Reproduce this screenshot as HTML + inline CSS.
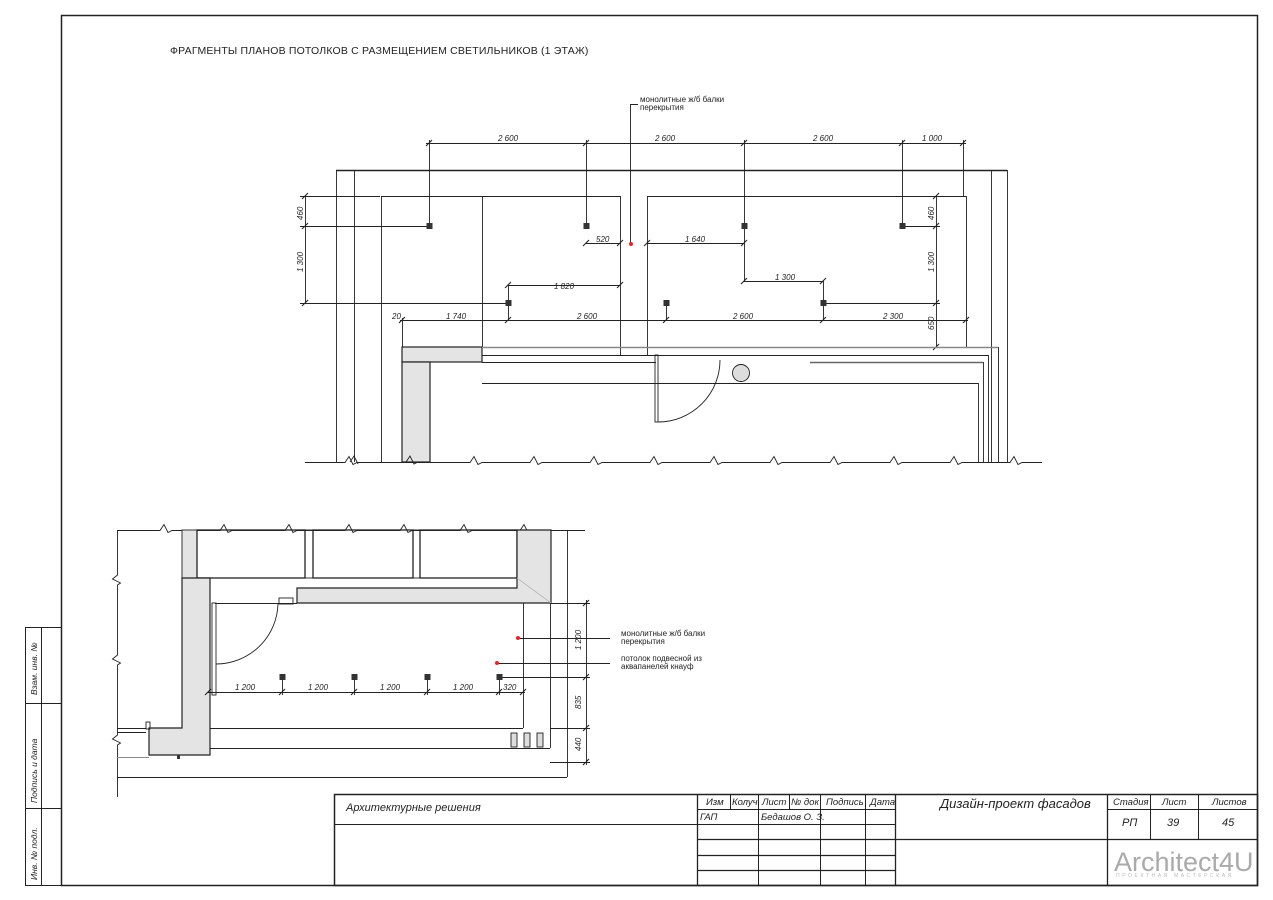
<!DOCTYPE html>
<html><head><meta charset="utf-8"><style>
html,body{margin:0;padding:0;background:#fff;}
svg{display:block;}
text{font-family:"Liberation Sans","DejaVu Sans",sans-serif;fill:#222;}
.d{font-size:8px;font-style:italic;}
.t{font-size:9.5px;font-style:italic;}
</style></head><body>
<svg width="1273" height="900" viewBox="0 0 1273 900" xmlns="http://www.w3.org/2000/svg">
<g fill="none" stroke="#222" stroke-width="1">
<rect x="61.5" y="15.5" width="1196" height="870" stroke-width="1.5"/>
<rect x="25.5" y="627.5" width="36" height="258"/>
<line x1="41.5" y1="627" x2="41.5" y2="885"/>
<line x1="25" y1="703.5" x2="61" y2="703.5"/>
<line x1="25" y1="808.5" x2="61" y2="808.5"/>
<rect x="334.5" y="794.5" width="923" height="91" stroke-width="1.5"/>
<line x1="334" y1="824.5" x2="697" y2="824.5"/>
<line x1="697.5" y1="794" x2="697.5" y2="885" stroke-width="1.3"/>
<line x1="697" y1="809.5" x2="895" y2="809.5"/>
<line x1="697" y1="824.5" x2="895" y2="824.5"/>
<line x1="697" y1="839.5" x2="1257" y2="839.5" stroke-width="1.3"/>
<line x1="697" y1="855.5" x2="895" y2="855.5" stroke-width="1.3"/>
<line x1="697" y1="870.5" x2="895" y2="870.5" stroke-width="1.3"/>
<line x1="730.5" y1="794" x2="730.5" y2="809"/>
<line x1="758.5" y1="794" x2="758.5" y2="885"/>
<line x1="789.5" y1="794" x2="789.5" y2="809"/>
<line x1="820.5" y1="794" x2="820.5" y2="885"/>
<line x1="865.5" y1="794" x2="865.5" y2="885"/>
<line x1="895.5" y1="794" x2="895.5" y2="885" stroke-width="1.3"/>
<line x1="1107.5" y1="794" x2="1107.5" y2="885" stroke-width="1.3"/>
<line x1="1107" y1="809.5" x2="1257" y2="809.5"/>
<line x1="1150.5" y1="794" x2="1150.5" y2="839"/>
<line x1="1198.5" y1="794" x2="1198.5" y2="839"/>
</g>

<g class="t">
<text x="346" y="811" style="font-size:11px">Архитектурные решения</text>
<text x="706" y="805">Изм</text><text x="732" y="805">Колуч</text><text x="762" y="805">Лист</text><text x="791" y="805">№ док</text><text x="826" y="805">Подпись</text><text x="870" y="805">Дата</text>
<text x="700" y="820">ГАП</text><text x="761" y="820">Бедашов О. З.</text>
<text x="940" y="808" style="font-size:13px">Дизайн-проект фасадов</text>
<text x="1113" y="805">Стадия</text><text x="1162" y="805">Лист</text><text x="1212" y="805">Листов</text>
<text x="1122" y="826" style="font-size:11px">РП</text><text x="1167" y="826" style="font-size:11px">39</text><text x="1222" y="826" style="font-size:11px">45</text>
</g>
<text x="1114" y="871" style="font-size:27px;fill:#aaa;font-style:normal">Architect4U</text>
<text x="1116" y="877" style="font-size:5px;fill:#bbb;letter-spacing:2.6px">ПРОЕКТНАЯ МАСТЕРСКАЯ</text>
<g class="t" style="font-size:8.5px">
<text transform="translate(37,695) rotate(-90)">Взам. инв. №</text>
<text transform="translate(37,803) rotate(-90)">Подпись и дата</text>
<text transform="translate(37,880) rotate(-90)">Инв. № подл.</text>
</g>

<text x="170" y="54" style="font-size:10.5px;letter-spacing:0.18px">ФРАГМЕНТЫ ПЛАНОВ ПОТОЛКОВ С РАЗМЕЩЕНИЕМ СВЕТИЛЬНИКОВ (1 ЭТАЖ)</text>

<g fill="none" stroke="#222" stroke-width="0.9">
<line x1="426" y1="143.5" x2="966" y2="143.5"/>
<line x1="429.5" y1="140" x2="429.5" y2="226"/>
<line x1="586.5" y1="140" x2="586.5" y2="226"/>
<line x1="744.5" y1="140" x2="744.5" y2="281"/>
<line x1="902.5" y1="140" x2="902.5" y2="226"/>
<line x1="963.5" y1="140" x2="963.5" y2="196"/>
<line x1="336" y1="170.5" x2="1007" y2="170.5" stroke-width="1.5"/>
<line x1="336.5" y1="170" x2="336.5" y2="462"/>
<line x1="354.5" y1="170" x2="354.5" y2="462"/>
<line x1="991.5" y1="170" x2="991.5" y2="462"/>
<line x1="1007.5" y1="170" x2="1007.5" y2="462"/>
<line x1="381" y1="196.5" x2="620" y2="196.5"/>
<line x1="381.5" y1="196" x2="381.5" y2="462"/>
<line x1="482.5" y1="196" x2="482.5" y2="347"/>
<line x1="620.5" y1="196" x2="620.5" y2="355"/>
<line x1="647" y1="196.5" x2="966" y2="196.5"/>
<line x1="647.5" y1="196" x2="647.5" y2="355"/>
<line x1="966.5" y1="196" x2="966.5" y2="347"/>
<line x1="305.5" y1="196" x2="305.5" y2="303"/>
<line x1="300" y1="196.5" x2="380" y2="196.5"/>
<line x1="300" y1="226.5" x2="429" y2="226.5"/>
<line x1="300" y1="303.5" x2="508" y2="303.5"/>
<line x1="936.5" y1="196" x2="936.5" y2="347"/>
<line x1="902" y1="226.5" x2="940" y2="226.5"/>
<line x1="823" y1="303.5" x2="940" y2="303.5"/>
<line x1="586" y1="243.5" x2="620" y2="243.5"/>
<line x1="647" y1="243.5" x2="744" y2="243.5"/>
<line x1="744" y1="281.5" x2="823" y2="281.5"/>
<line x1="823.5" y1="281" x2="823.5" y2="320"/>
<line x1="508" y1="285.5" x2="620" y2="285.5"/>
<line x1="508.5" y1="285" x2="508.5" y2="320"/>
<line x1="666.5" y1="303" x2="666.5" y2="320"/>
<line x1="400" y1="320.5" x2="968" y2="320.5"/>
<line x1="402.5" y1="318" x2="402.5" y2="347"/>
<polyline points="638,104.5 630.5,104.5 630.5,244"/>
<g stroke-width="1.1">
<path d="M426 146l6-6M583 146l6-6M741 146l6-6M899 146l6-6M960 146l6-6"/>
<path d="M302 199l6-6M302 229l6-6M302 306l6-6M933 199l6-6M933 229l6-6M933 306l6-6M933 350l6-6"/>
<path d="M583 246l6-6M617 246l6-6M644 246l6-6M741 246l6-6M741 284l6-6M820 284l6-6M505 288l6-6M617 288l6-6"/>
<path d="M399 323l6-6M505 323l6-6M663 323l6-6M820 323l6-6M963 323l6-6"/>
</g>
<rect x="402" y="347" width="80" height="15" fill="#e4e4e4" stroke-width="1.2"/>
<rect x="402" y="362" width="28" height="100" fill="#e4e4e4" stroke-width="1.2"/>
<line x1="482" y1="347.5" x2="998" y2="347.5" stroke="#888" stroke-width="1.5"/>
<line x1="482" y1="355.5" x2="988" y2="355.5"/>
<line x1="482" y1="362.5" x2="656" y2="362.5"/>
<line x1="810" y1="362.5" x2="983" y2="362.5" stroke="#666" stroke-width="1.5"/>
<line x1="482" y1="383.5" x2="978" y2="383.5"/>
<line x1="978.5" y1="383" x2="978.5" y2="462"/>
<line x1="983.5" y1="362" x2="983.5" y2="462"/>
<line x1="988.5" y1="355" x2="988.5" y2="462"/>
<line x1="998.5" y1="347" x2="998.5" y2="462"/>
<rect x="655" y="355" width="3" height="67"/>
<path d="M658 422 A62 62 0 0 0 720 360"/>
<circle cx="741" cy="373" r="8.5" fill="#ddd"/>
<path d="M305 462.5H345l4-6l4 8l4-2H470l4-6l4 8l4-2H530l4-6l4 8l4-2H590l4-6l4 8l4-2H650l4-6l4 8l4-2H710l4-6l4 8l4-2H770l4-6l4 8l4-2H830l4-6l4 8l4-2H890l4-6l4 8l4-2H950l4-6l4 8l4-2H1010l4-6l4 8l4-2H1042"/>
<path d="M406 462l4-6l4 8l4-2M350 462l4-6l4 8"/>
</g>
<g fill="#333">
<rect x="426.5" y="223" width="6" height="6"/><rect x="583.5" y="223" width="6" height="6"/><rect x="741.5" y="223" width="6" height="6"/><rect x="899.5" y="223" width="6" height="6"/>
<rect x="505.5" y="300" width="6" height="6"/><rect x="663.5" y="300" width="6" height="6"/><rect x="820.5" y="300" width="6" height="6"/>
</g>
<circle cx="631" cy="244" r="2" fill="#e22"/>
<g class="d">
<text x="498" y="141">2 600</text><text x="655" y="141">2 600</text><text x="813" y="141">2 600</text><text x="922" y="141">1 000</text>
<text x="596" y="242">520</text><text x="685" y="242">1 640</text><text x="775" y="280">1 300</text><text x="554" y="289">1 820</text>
<text x="392" y="319">20</text><text x="446" y="319">1 740</text><text x="577" y="319">2 600</text><text x="733" y="319">2 600</text><text x="883" y="319">2 300</text>
<text transform="translate(303,220) rotate(-90)">460</text><text transform="translate(303,272) rotate(-90)">1 300</text>
<text transform="translate(934,220) rotate(-90)">460</text><text transform="translate(934,272) rotate(-90)">1 300</text><text transform="translate(934,330) rotate(-90)">650</text>
</g>
<text x="640" y="102" class="d" style="font-style:normal">монолитные ж/б балки</text>
<text x="640" y="110" class="d" style="font-style:normal">перекрытия</text>

<g fill="none" stroke="#222" stroke-width="0.9">
<path d="M117 530.5H160l4-6l4 8l4-2H220l4-6l4 8l4-2H285l4-6l4 8l4-2H345l4-6l4 8l4-2H400l4-6l4 8l4-2H460l4-6l4 8l4-2H520l4-6l4 8l4-2H585"/>
<path d="M117.5 530V575l-5 4l8 4l-3 2V655l-5 4l8 4l-3 2V735l-5 4l8 4l-3 2V797"/>
<rect x="182" y="530" width="15" height="48" fill="#e4e4e4"/>
<rect x="197" y="530" width="108" height="48" stroke-width="1.3"/>
<rect x="313" y="530" width="100" height="48" stroke-width="1.3"/>
<rect x="420" y="530" width="97" height="48" stroke-width="1.3"/>
<rect x="305" y="530" width="8" height="48"/><rect x="413" y="530" width="7" height="48"/>
<path d="M517 530H551V603H297V588H517Z" fill="#e4e4e4" stroke-width="1.2"/>
<line x1="517" y1="578" x2="551" y2="603" stroke="#bbb"/>
<path d="M182 578H210V755H149V728H182Z" fill="#e4e4e4" stroke-width="1.2"/>
<line x1="215" y1="603.5" x2="297" y2="603.5"/>
<rect x="279" y="598" width="14" height="6"/>
<rect x="212" y="603" width="4" height="92"/>
<path d="M216 664 A62 62 0 0 0 278 604"/>
<rect x="146" y="722" width="4" height="7"/>
<line x1="117" y1="728.5" x2="146" y2="728.5"/>
<line x1="117" y1="732.5" x2="146" y2="732.5"/>
<line x1="210" y1="728.5" x2="523" y2="728.5"/>
<line x1="523.5" y1="603" x2="523.5" y2="728"/>
<line x1="550.5" y1="603" x2="550.5" y2="748"/>
<line x1="210" y1="748.5" x2="550" y2="748.5"/>
<line x1="567.5" y1="530" x2="567.5" y2="777"/>
<line x1="117" y1="777.5" x2="567" y2="777.5"/>
<line x1="117" y1="757.5" x2="149" y2="757.5" stroke="#888"/>
<rect x="511" y="733" width="6" height="14" fill="#ddd"/><rect x="524" y="733" width="6" height="14" fill="#ddd"/><rect x="537" y="733" width="6" height="14" fill="#ddd"/>
<line x1="208" y1="692.5" x2="525" y2="692.5"/>
<line x1="282.5" y1="677" x2="282.5" y2="695"/>
<line x1="354.5" y1="677" x2="354.5" y2="695"/>
<line x1="427.5" y1="677" x2="427.5" y2="695"/>
<line x1="499.5" y1="677" x2="499.5" y2="695"/>
<line x1="586.5" y1="600" x2="586.5" y2="765"/>
<line x1="551" y1="603.5" x2="590" y2="603.5"/>
<line x1="499" y1="677.5" x2="590" y2="677.5"/>
<line x1="550" y1="728.5" x2="590" y2="728.5"/>
<line x1="550" y1="762.5" x2="590" y2="762.5"/>
<g stroke-width="1.1">
<path d="M205 695l6-6M279 695l6-6M351 695l6-6M424 695l6-6M496 695l6-6M520 695l6-6"/>
<path d="M583 606l6-6M583 680l6-6M583 731l6-6M583 765l6-6"/>
</g>
<line x1="518" y1="638.5" x2="610" y2="638.5"/>
<line x1="497" y1="663.5" x2="610" y2="663.5"/>
</g>
<g fill="#333">
<rect x="279.5" y="674" width="6" height="6"/><rect x="351.5" y="674" width="6" height="6"/><rect x="424.5" y="674" width="6" height="6"/><rect x="496.5" y="674" width="6" height="6"/>
<rect x="177" y="755" width="3" height="4"/>
</g>
<circle cx="518" cy="638" r="2" fill="#e22"/><circle cx="497" cy="663" r="2" fill="#e22"/>
<g class="d">
<text x="235" y="690">1 200</text><text x="308" y="690">1 200</text><text x="380" y="690">1 200</text><text x="453" y="690">1 200</text><text x="503" y="690">320</text>
<text transform="translate(581,650) rotate(-90)">1 200</text><text transform="translate(581,709) rotate(-90)">835</text><text transform="translate(581,751) rotate(-90)">440</text>
</g>
<g class="d" style="font-style:normal">
<text x="621" y="636">монолитные ж/б балки</text><text x="621" y="644">перекрытия</text>
<text x="621" y="661">потолок подвесной из</text><text x="621" y="669">аквапанелей кнауф</text>
</g>
</svg>
</body></html>
